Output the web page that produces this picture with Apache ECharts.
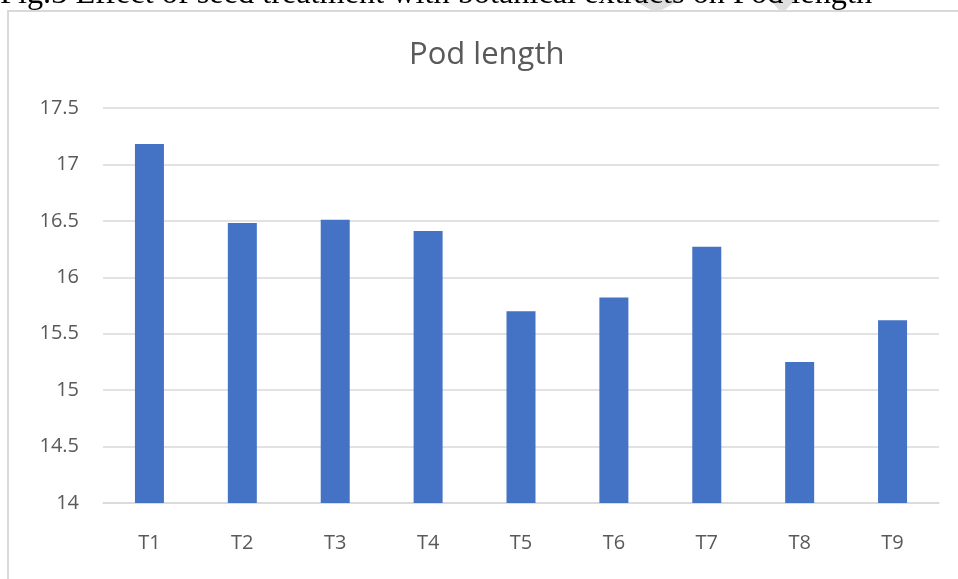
<!DOCTYPE html>
<html>
<head>
<meta charset="utf-8">
<script src="https://cdn.jsdelivr.net/npm/echarts@6/dist/echarts.min.js"></script>
<style>html,body{margin:0;padding:0;background:#fff;}#c{width:958px;height:579px;}</style>
</head>
<body>
<div id="c"></div>
<script>
var categories = ['T1','T2','T3','T4','T5','T6','T7','T8','T9'];
var podLength = [17.18, 16.48, 16.51, 16.41, 15.70, 15.82, 16.27, 15.25, 15.62];
var yMin = 14, yMax = 17.5, yStep = 0.5;
var chartTitle = 'Pod length';
var figCaption = 'Fig.3 Effect of seed treatment with botanical extracts on Pod length';

var chart = echarts.init(document.getElementById('c'), null, {renderer: 'canvas'});
chart.setOption({
  backgroundColor: '#fff',
  animation: false,
  title: {
    text: chartTitle,
    left: 404,
    top: 35,
    textStyle: {fontFamily: 'Open Sans', fontSize: 31, fontWeight: 'normal', color: '#595959'}
  },
  graphic: [
    {type: 'rect', shape: {x: 8, y: 11, width: 970, height: 600}, style: {fill: 'none', stroke: '#d9d9d9', lineWidth: 2}, z: 1},
    {type: 'polygon', shape: {points: [[633,0],[680,0],[660,11],[653,11]]}, style: {fill: '#dedede'}, z: 0},
    {type: 'polygon', shape: {points: [[770,0],[795,0],[785,11],[780,11]]}, style: {fill: '#dedede'}, z: 0},
    {type: 'text', left: 0, top: -21, style: {text: figCaption, font: '32.3px "Liberation Serif"', fill: '#000'}, z: 5}
  ],
  grid: {left: 103, right: 19, top: 108, bottom: 76},
  xAxis: {
    type: 'category',
    data: categories,
    axisLine: {lineStyle: {color: '#d9d9d9', width: 1.5}},
    axisTick: {show: false},
    axisLabel: {fontFamily: 'Open Sans', fontSize: 20, color: '#595959', margin: 30}
  },
  yAxis: {
    type: 'value',
    min: yMin, max: yMax, interval: yStep,
    axisLine: {show: false},
    axisTick: {show: false},
    splitLine: {lineStyle: {color: '#d9d9d9', width: 1.5}},
    axisLabel: {fontFamily: 'Open Sans', fontSize: 20, color: '#595959', margin: 24}
  },
  series: [{
    type: 'bar',
    data: podLength,
    barWidth: 29,
    itemStyle: {color: '#4472C4'}
  }]
});
</script>
</body>
</html>
